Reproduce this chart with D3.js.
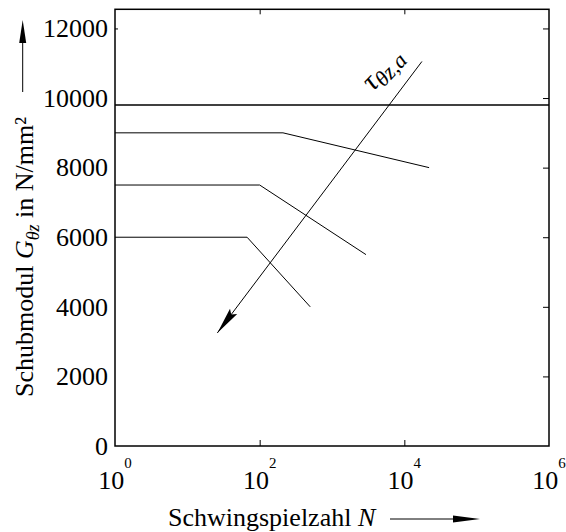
<!DOCTYPE html>
<html>
<head>
<meta charset="utf-8">
<script src="https://cdn.jsdelivr.net/npm/d3@7"></script>
<style>
body { margin: 0; background: #fff; }
svg text { font-family: "Liberation Serif", "Times New Roman", "DejaVu Serif", serif; fill: #000; }
</style>
</head>
<body>
<svg id="chart" width="566" height="532"></svg>
<script>
// daten
const yTicks = [0, 2000, 4000, 6000, 8000, 10000, 12000];
const xTickExps = [0, 2, 4, 6];

const nA = [1, 1e6];           const gA = [9800, 9800];
const nB = [1, 210, 22000];    const gB = [9000, 9000, 8000];
const nC = [1, 100, 2950];     const gC = [7500, 7500, 5500];
const nD = [1, 67, 500];       const gD = [6000, 6000, 4000];

// pfeil tau_thetaz,a
const arrowN = [17500, 26];
const arrowG = [11050, 3250];

const FONT = "Liberation Serif, Times New Roman, DejaVu Serif, serif";

const svg = d3.select("#chart");
const x = d3.scaleLog().domain([1, 1e6]).range([115, 549]);
const y = d3.scaleLinear().domain([0, 12550]).range([446, 9.3]);

const line = d3.line().x(d => x(d[0])).y(d => y(d[1]));
const zip = (a, b) => a.map((v, i) => [v, b[i]]);

function arrowHead(g, tx, ty, ang, len, hw, notch) {
    // ang: richtung in der die spitze zeigt (rad)
    const c = Math.cos(ang), s = Math.sin(ang);
    const pt = (u, v) => [tx - u * c - v * s, ty - u * s + v * c];
    const p = [pt(0, 0), pt(len, hw), pt(len - notch, 0), pt(len, -hw)];
    g.append("path")
        .attr("d", "M" + p.map(q => q.join(",")).join("L") + "Z")
        .attr("fill", "#000");
}

// kurven
[[nA, gA, 1.3], [nB, gB, 1], [nC, gC, 1], [nD, gD, 1]].forEach(([n, gv, w]) => {
    svg.append("path")
        .attr("d", line(zip(n, gv)))
        .attr("fill", "none")
        .attr("stroke", "#000")
        .attr("stroke-width", w);
});

// pfeil
const ax0 = x(arrowN[0]), ay0 = y(arrowG[0]);
const ax1 = x(arrowN[1]), ay1 = y(arrowG[1]);
const ang = Math.atan2(ay1 - ay0, ax1 - ax0);
svg.append("path")
    .attr("d", line([[arrowN[0], arrowG[0]], [arrowN[1], arrowG[1]]]))
    .attr("stroke", "#000")
    .attr("stroke-width", 1);
arrowHead(svg, ax1, ay1, ang, 27, 4.5, 4);

// rahmen
svg.append("rect")
    .attr("x", x(1)).attr("y", y(12550))
    .attr("width", x(1e6) - x(1)).attr("height", y(0) - y(12550))
    .attr("fill", "none").attr("stroke", "#000").attr("stroke-width", 1.5);

// ticks innen
svg.append("g")
    .attr("transform", `translate(${x(1e6)},0)`)
    .call(d3.axisLeft(y).tickValues(yTicks.slice(1)).tickSize(6).tickFormat(""))
    .call(g => g.select(".domain").remove());
svg.append("g")
    .attr("transform", `translate(0,${y(12550)})`)
    .call(d3.axisBottom(x).tickValues([100, 1e4]).tickSize(5).tickFormat(""))
    .call(g => g.select(".domain").remove());
svg.append("g")
    .attr("transform", `translate(0,${y(0)})`)
    .call(d3.axisTop(x).tickValues([100, 1e4]).tickSize(6).tickFormat(""))
    .call(g => g.select(".domain").remove());
svg.append("g")
    .attr("transform", `translate(${x(1)},0)`)
    .call(d3.axisRight(y).tickValues([12000]).tickSize(3).tickFormat(""))
    .call(g => g.select(".domain").remove());

// y beschriftung
svg.append("g")
    .attr("transform", `translate(${x(1)},0)`)
    .call(d3.axisLeft(y).tickValues(yTicks).tickSize(0).tickPadding(7).tickFormat(d3.format("d")))
    .attr("font-family", FONT)
    .attr("font-size", 26)
    .call(g => g.select(".domain").remove())
    .selectAll("text")
    .attr("fill", "#000");

// x beschriftung 10^n
xTickExps.forEach(e => {
    const t = svg.append("text")
        .attr("x", x(Math.pow(10, e)))
        .attr("y", 489)
        .attr("text-anchor", "middle")
        .attr("font-size", 26);
    t.append("tspan").text("10");
    t.append("tspan").attr("dy", -21).attr("font-size", 15).text(e);
});

// achsentitel
const yl = svg.append("text")
    .attr("transform", "translate(33,397) rotate(-90)")
    .attr("font-size", 26);
yl.append("tspan").text("Schubmodul ");
yl.append("tspan").attr("font-style", "italic").text("G");
yl.append("tspan").attr("dy", 6).attr("font-size", 18).attr("font-style", "italic").text("θz");
yl.append("tspan").attr("dy", -6).text(" in N/mm²");
svg.append("line")
    .attr("x1", 22.7).attr("y1", 92).attr("x2", 22.7).attr("y2", 40)
    .attr("stroke", "#000").attr("stroke-width", 1);
arrowHead(svg, 22.7, 20, -Math.PI / 2, 23, 3.5, 0);

const xl = svg.append("text")
    .attr("x", 168).attr("y", 526)
    .attr("font-size", 26);
xl.append("tspan").text("Schwingspielzahl ");
xl.append("tspan").attr("font-style", "italic").text("N");
svg.append("line")
    .attr("x1", 390).attr("y1", 519).attr("x2", 460).attr("y2", 519)
    .attr("stroke", "#000").attr("stroke-width", 1);
arrowHead(svg, 480, 519, 0, 27, 3.5, 0);

// tau label am pfeil
const tl = svg.append("text")
    .attr("transform", "translate(373,92) rotate(-47)")
    .attr("font-size", 29)
    .attr("font-style", "italic");
tl.append("tspan").text("τ");
tl.append("tspan").attr("dy", 5).attr("font-size", 22).text("θz,a");
</script>
</body>
</html>
